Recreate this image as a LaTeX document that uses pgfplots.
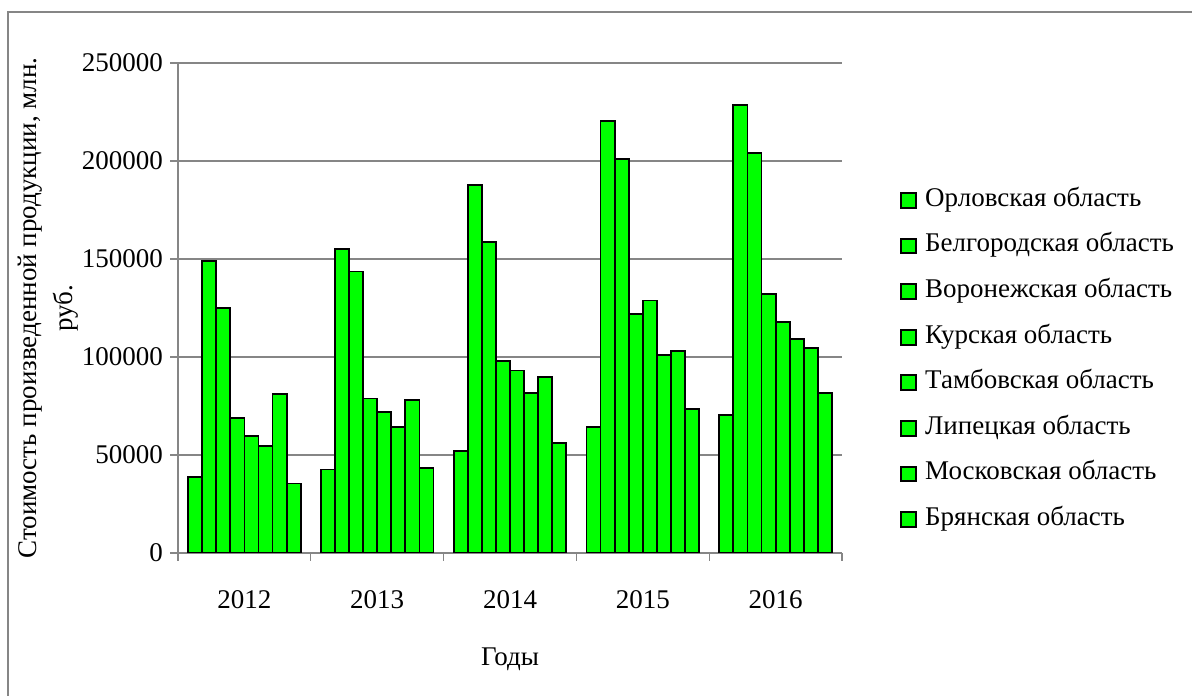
\documentclass[border=0pt]{standalone}
\usepackage{pgfplots}
\pgfplotsset{compat=1.18}
\usepackage{fontspec}
\setmainfont{Liberation Serif}
\definecolor{gridgray}{RGB}{134,134,134}
\definecolor{bargreen}{RGB}{0,255,0}
\begin{document}
\begin{tikzpicture}
\useasboundingbox (0pt,0pt) rectangle (596pt,347.5pt);
% chart area frame
\draw[gridgray,line width=0.8pt] (4pt,341.5pt) rectangle (610pt,-10pt);
\begin{axis}[
    at={(89pt,71pt)}, anchor=south west,
    scale only axis,
    width=332pt, height=245pt,
    ybar=0pt, bar width=0.106,
    xmin=-0.5, xmax=4.5,
    ymin=0, ymax=250000,
    xtick={0,1,2,3,4},
    xticklabels={2012,2013,2014,2015,2016},
    minor xtick={-0.5,0.5,1.5,2.5,3.5,4.5},
    major x tick style={draw=none},
    ytick={0,50000,100000,150000,200000,250000},
    yticklabels={0,50000,100000,150000,200000,250000},
    scaled y ticks=false,
    tick align=outside,
    tick pos=left,
    major tick length=4pt, minor tick length=4pt,
    every tick/.style={gridgray, line width=0.6pt},
    axis x line*=bottom, axis y line*=left,
    axis line style={gridgray, line width=0.6pt},
    ymajorgrids,
    major grid style={gridgray, line width=0.6pt},
    ticklabel style={font=\fontsize{13.5}{16}\selectfont, text=black},
    xticklabel style={yshift=-11pt},
    xlabel={Годы},
    xlabel style={font=\fontsize{13.5}{16}\selectfont, at={(axis description cs:0.5,0)}, anchor=north, yshift=-44pt},
    ylabel={Стоимость произведенной продукции, млн.\\руб.},
    ylabel style={font=\fontsize{13.5}{18}\selectfont, align=center, at={(axis description cs:-0.195,0.5)}, anchor=center},
    legend style={at={(1.0873,0.745)}, anchor=north west, draw=none, fill=none,
        inner sep=0pt, row sep=10.8pt,
        font=\fontsize{13.5}{16}\selectfont,
        nodes={inner sep=0pt, text height=9pt, text depth=3pt},
        /tikz/every odd column/.append style={column sep=4pt}},
    legend cell align=left,
    legend image code/.code={\draw[#1,line width=1pt] (0pt,-3.7pt) rectangle (7.4pt,3.7pt);},
    gbar/.style={fill=bargreen, draw=black, line width=0.9pt},
]
\addplot[gbar] coordinates {(0,38700) (1,42650) (2,51900) (3,64100) (4,70600)};
\addlegendentry{Орловская область}
\addplot[gbar] coordinates {(0,148900) (1,155100) (2,187800) (3,220600) (4,228400)};
\addlegendentry{Белгородская область}
\addplot[gbar] coordinates {(0,125200) (1,143600) (2,158700) (3,201100) (4,204000)};
\addlegendentry{Воронежская область}
\addplot[gbar] coordinates {(0,68750) (1,78800) (2,97900) (3,122000) (4,132200)};
\addlegendentry{Курская область}
\addplot[gbar] coordinates {(0,59540) (1,72000) (2,93150) (3,128800) (4,117700)};
\addlegendentry{Тамбовская область}
\addplot[gbar] coordinates {(0,54400) (1,64300) (2,81700) (3,101000) (4,109000)};
\addlegendentry{Липецкая область}
\addplot[gbar] coordinates {(0,81000) (1,78000) (2,89600) (3,103200) (4,104700)};
\addlegendentry{Московская область}
\addplot[gbar] coordinates {(0,35500) (1,43200) (2,56000) (3,73500) (4,81500)};
\addlegendentry{Брянская область}
\end{axis}
\end{tikzpicture}
\end{document}
